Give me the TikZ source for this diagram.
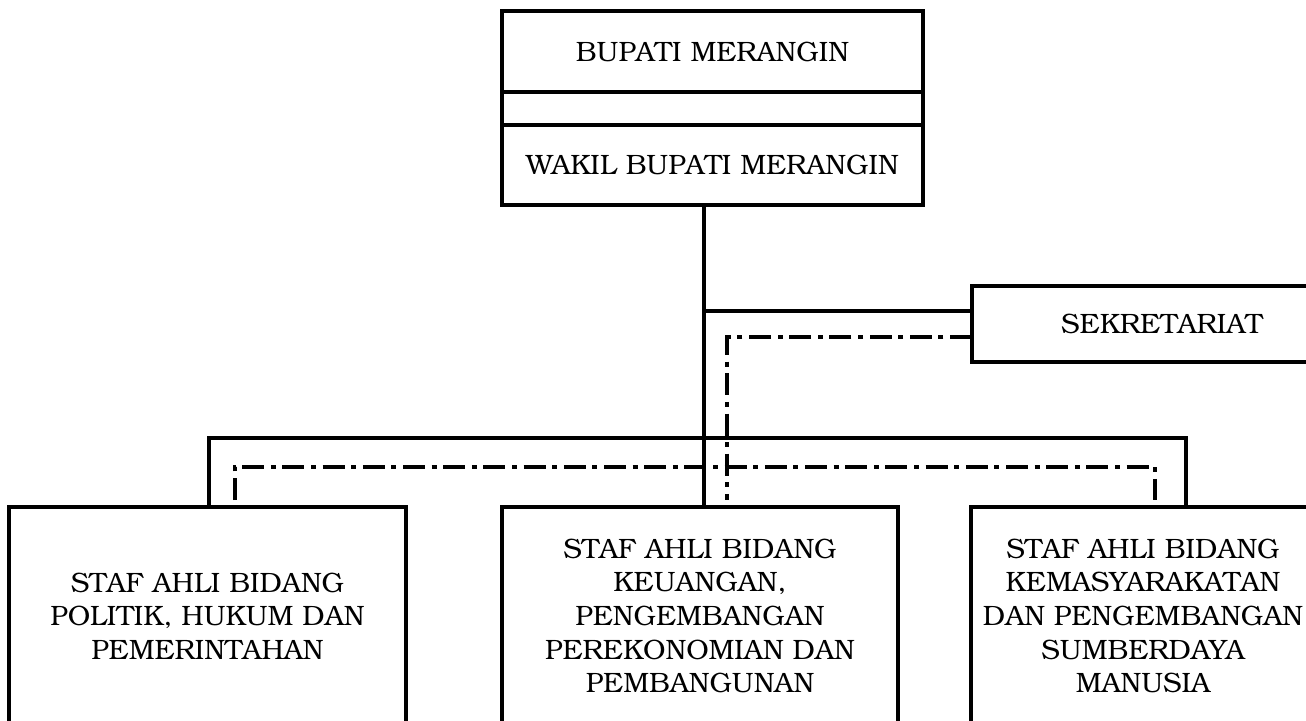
\documentclass[tikz,border=0pt]{standalone}
\usepackage[T1]{fontenc}
\usepackage{bookman}
\usetikzlibrary{calc}
\begin{document}
\begin{tikzpicture}[x=0.5pt,y=-0.5pt,line width=1.6pt,
  frame/.style={draw,rectangle,inner sep=0pt,outer sep=0pt},
  txt/.style={inner sep=0pt,align=center,font=\fontsize{14}{16.8}\selectfont},
  dd/.style={dash pattern=on 11pt off 3.3pt on 2.5pt off 3.3pt}]
\clip (0,0) rectangle (1306,720);
% top box
\node[frame,minimum width=210.5pt,minimum height=40.5pt] (b1) at (712.5,51.5) {};
\node[frame,minimum width=210.5pt,minimum height=16.5pt] (b2) at (712.5,108.5) {};
\node[frame,minimum width=210.5pt,minimum height=40pt] (b3) at (712.5,165) {};
\node[txt] (t1) at (b1.center) {BUPATI MERANGIN};
\node[txt] (t3) at (b3.center) {WAKIL BUPATI MERANGIN};
% sekretariat
\node[frame,minimum width=190pt,minimum height=38pt] (sek) at (1162,324) {};
\node[txt] (tsek) at (sek.center) {SEKRETARIAT};
% staff boxes
\node[frame,minimum width=198.5pt,minimum height=109pt] (s1) at (207.5,616) {};
\node[frame,minimum width=198pt,minimum height=109pt] (s2) at (700,616) {};
\node[frame,minimum width=172pt,minimum height=109pt] (s3) at (1143,616) {};
\node[txt] (ts1) at (s1.center) {STAF AHLI BIDANG\\POLITIK, HUKUM DAN\\PEMERINTAHAN};
\node[txt] (ts2) at (s2.center) {STAF AHLI BIDANG\\KEUANGAN,\\PENGEMBANGAN\\PEREKONOMIAN DAN\\PEMBANGUNAN};
\node[txt] (ts3) at (s3.center) {STAF AHLI BIDANG\\KEMASYARAKATAN\\DAN PENGEMBANGAN\\SUMBERDAYA\\MANUSIA};
% coordinates
\coordinate (spine) at (704,0);
\coordinate (sekA) at ($(sek.north west)!0.33!(sek.south west)$);
\coordinate (sekB) at ($(sek.north west)!0.67!(sek.south west)$);
\coordinate (barL) at (209,438);
\coordinate (barR) at (1186,438);
\coordinate (ddL) at (235,467);
\coordinate (ddR) at (1155,467);
\coordinate (ddLe) at (235,500);
\coordinate (ddRe) at (1155,500);
\coordinate (ddS) at (727,500);
% connectors
\draw (b3.south -| spine) -- (s2.north -| spine);
\draw (sekA) -- (sekA -| spine);
\draw (s1.north -| barL) -- (barL) -- (barR) -- (s3.north -| barR);
\draw[dd] (ddLe) -- (ddL) -- (ddR) -- (ddRe);
\draw[dd] (sekB) -- (sekB -| ddS) -- (ddS);
\end{tikzpicture}
\end{document}
